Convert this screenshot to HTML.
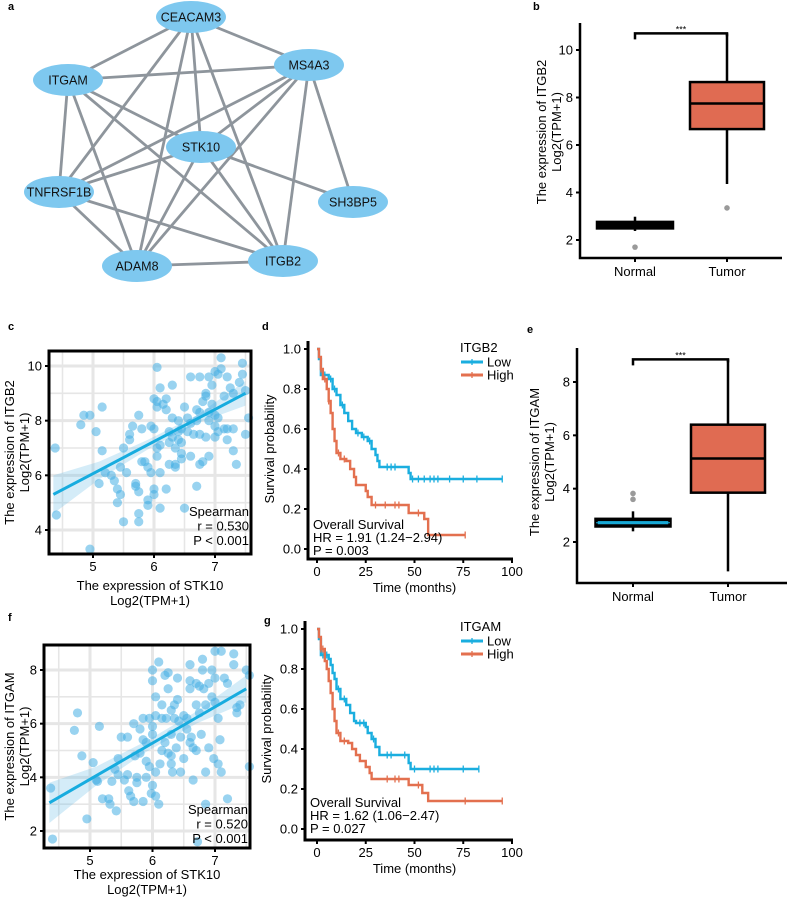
<!DOCTYPE html>
<html><head><meta charset="utf-8"><style>
html,body{margin:0;padding:0;background:#fff}
svg{display:block;font-family:"Liberation Sans",sans-serif}
</style></head><body>
<svg id="fig" width="787" height="897" viewBox="0 0 787 897">
<g id="net"></g>
</svg>
<script>
// ---------- data ----------
const netNodes = ['CEACAM3','MS4A3','ITGAM','STK10','TNFRSF1B','SH3BP5','ADAM8','ITGB2'];
const netEdges = [['CEACAM3','MS4A3'],['CEACAM3','ITGAM'],['CEACAM3','TNFRSF1B'],['CEACAM3','ADAM8'],['CEACAM3','STK10'],['CEACAM3','ITGB2'],
['ITGAM','MS4A3'],['ITGAM','TNFRSF1B'],['ITGAM','ADAM8'],['ITGAM','STK10'],['ITGAM','ITGB2'],
['MS4A3','TNFRSF1B'],['MS4A3','STK10'],['MS4A3','ADAM8'],['MS4A3','ITGB2'],['MS4A3','SH3BP5'],
['STK10','TNFRSF1B'],['STK10','ADAM8'],['STK10','ITGB2'],['STK10','SH3BP5'],
['TNFRSF1B','ADAM8'],['TNFRSF1B','ITGB2'],['ADAM8','ITGB2']];

const boxGroups = ['Normal','Tumor'];
const bQ1=[2.53,6.67], bMed=[2.62,7.75], bQ3=[2.72,8.65], bLo=[2.38,4.36], bHi=[2.98,10.7];
const bOutX=[0,1], bOutY=[1.7,3.35];
const eQ1=[2.6,3.85], eMed=[2.72,5.13], eQ3=[2.85,6.4], eLo=[2.4,0.9], eHi=[3.15,8.85];
const eOutX=[0,0], eOutY=[3.6,3.82];
const bTicks=[2,4,6,8,10], eTicks=[2,4,6,8];

const cX=[4.38,4.4,4.8,4.85,4.95,4.95,5.05,5.1,5.15,5.15,5.2,5.35,5.4,5.4,5.45,5.45,5.5,5.5,5.55,5.6,5.6,5.65,5.7,5.7,5.75,5.75,5.75,5.75,5.8,5.8,5.85,5.9,5.9,5.9,5.95,5.95,6.0,6.0,6.0,6.0,6.05,6.05,6.05,6.05,6.05,6.1,6.1,6.1,6.1,6.15,6.2,6.2,6.2,6.25,6.25,6.3,6.3,6.3,6.35,6.35,6.35,6.4,6.4,6.4,6.45,6.45,6.45,6.5,6.5,6.55,6.55,6.6,6.6,6.65,6.7,6.7,6.7,6.75,6.75,6.75,6.75,6.8,6.8,6.85,6.85,6.85,6.9,6.9,6.9,6.95,6.95,7.0,7.0,7.0,7.0,7.05,7.05,7.05,7.1,7.1,7.15,7.15,7.2,7.2,7.2,7.25,7.3,7.3,7.3,7.35,7.4,7.45,7.45,7.5,7.5,7.55,6.25,6.6,6.9,5.3,6.45];
const cY=[7.0,4.55,7.85,8.2,8.2,3.3,7.6,5.7,6.9,8.5,6.1,5.8,5.0,5.5,6.3,5.3,4.3,7.0,6.1,7.5,7.3,7.8,5.7,5.6,5.4,4.6,4.3,8.2,7.7,6.5,6.5,6.3,5.1,4.9,7.8,6.1,7.7,5.3,5.5,8.8,8.7,9.95,8.5,7.0,6.7,6.1,4.8,9.2,7.1,8.6,8.8,8.4,5.5,7.2,6.4,9.3,8.1,7.4,7.0,6.4,6.3,8.0,7.6,7.3,7.7,6.8,6.6,4.8,8.5,8.1,7.6,9.6,6.7,7.5,5.6,8.4,8.0,9.6,8.3,7.5,6.4,8.7,6.5,9.0,8.9,7.4,9.6,8.0,6.7,9.3,8.6,9.8,8.2,7.8,7.4,9.7,8.1,7.6,10.3,9.9,8.9,7.7,9.6,7.7,7.3,9.2,9.0,7.7,6.9,6.4,9.4,10.1,9.7,9.1,7.5,8.1,7.6,7.9,8.3,6.0,7.2];
const cFitX=[4.35,5.1,5.9,6.7,7.5], cFitY=[5.3,6.18,7.12,8.06,9.0], cBandLo=[4.6,5.85,6.95,7.9,8.55], cBandHi=[6.0,6.5,7.3,8.2,9.45];

const fX=[4.37,4.4,4.75,4.8,4.87,4.95,5.05,5.1,5.12,5.15,5.2,5.3,5.32,5.35,5.4,5.42,5.45,5.45,5.5,5.55,5.6,5.6,5.62,5.65,5.7,5.7,5.72,5.75,5.75,5.8,5.8,5.85,5.85,5.85,5.9,5.9,5.95,5.95,5.98,6.0,6.0,6.0,6.0,6.05,6.05,6.05,6.05,6.1,6.1,6.12,6.15,6.15,6.15,6.2,6.2,6.22,6.25,6.25,6.25,6.3,6.3,6.3,6.3,6.32,6.35,6.35,6.38,6.4,6.4,6.42,6.45,6.5,6.5,6.55,6.55,6.6,6.6,6.6,6.6,6.62,6.65,6.65,6.7,6.7,6.7,6.72,6.75,6.75,6.78,6.8,6.8,6.82,6.85,6.85,6.9,6.9,6.95,6.95,6.98,7.0,7.0,7.0,7.05,7.05,7.08,7.1,7.1,7.15,7.2,7.2,7.3,7.3,7.35,7.35,7.4,7.5,7.55,7.55,6.45,6.0,5.9,6.85];
const fY=[3.6,1.7,5.75,6.4,4.8,2.45,4.55,3.9,3.85,5.9,3.2,3.2,3.0,3.85,4.3,2.75,4.1,4.7,5.5,3.9,5.5,4.1,3.5,3.3,3.1,6.0,4.8,4.0,3.8,5.8,4.9,5.4,6.2,3.1,4.0,5.3,6.2,4.4,3.4,5.9,7.6,8.0,3.7,6.3,7.0,4.2,3.3,8.3,3.0,4.5,5.0,6.2,6.7,7.8,5.3,6.2,7.9,7.3,4.9,6.5,5.6,4.8,4.5,4.2,6.7,6.2,5.1,7.7,6.9,6.1,4.2,6.3,4.7,6.2,5.8,8.2,7.6,7.3,5.3,5.5,5.1,3.9,7.5,6.7,5.0,1.6,7.4,6.4,5.6,8.4,8.0,7.3,6.7,4.2,7.5,5.1,8.0,7.0,4.7,8.7,7.7,6.8,6.2,4.5,5.4,8.7,4.2,7.7,7.5,3.2,8.6,8.2,6.6,6.4,6.7,8.0,7.8,4.4,5.5,5.6,4.6,3.0];
const fFitX=[4.35,5.1,5.9,6.7,7.5], fFitY=[3.05,4.06,5.14,6.22,7.3], fBandLo=[2.3,3.7,4.95,6.0,6.8], fBandHi=[3.8,4.4,5.35,6.45,7.8];

const dLowT=[0,1,2,5,6,8,10,12,14,16,18,20,23,26,28,30,31,32,47,48], dLowS=[1,0.95,0.87,0.87,0.85,0.80,0.77,0.72,0.68,0.64,0.60,0.58,0.56,0.54,0.50,0.47,0.44,0.41,0.38,0.35], dLowEnd=95;
const dLowCens=[3,4,7,9,13,21,24,27,36,38,40,49,52,55,58,60,62,68,75,82,95];
const dHighT=[0,1,2,3,5,6,7,8,9,10,12,15,17,19,20,25,26,28,47,55,57], dHighS=[1,0.96,0.9,0.85,0.80,0.74,0.68,0.60,0.54,0.48,0.45,0.44,0.40,0.36,0.32,0.29,0.26,0.22,0.18,0.15,0.07], dHighEnd=76;
const dHighCens=[2,4,6,11,14,30,35,40,42,52,76];
const gLowT=[0,1,2,6,7,8,9,10,12,15,17,19,20,25,26,28,30,32,47,48], gLowS=[1,0.95,0.87,0.85,0.82,0.78,0.75,0.70,0.65,0.62,0.58,0.54,0.53,0.51,0.48,0.45,0.41,0.37,0.33,0.30], gLowEnd=83;
const gLowCens=[3,5,11,14,22,24,29,36,38,45,50,58,60,62,75,83];
const gHighT=[0,1,2,4,5,6,7,8,9,10,12,16,18,20,22,25,27,28,47,54,57], gHighS=[1,0.96,0.9,0.84,0.80,0.74,0.68,0.60,0.54,0.48,0.44,0.43,0.40,0.37,0.34,0.31,0.28,0.25,0.22,0.18,0.14], gHighEnd=95;
const gHighCens=[2,3,11,14,36,40,42,52,76,95];
const kmXTicks=[0,25,50,75,100], kmYTicks=[0,0.2,0.4,0.6,0.8,1.0];

// ---------- helpers ----------
const NS='http://www.w3.org/2000/svg';
const svg=document.getElementById('fig');
const FS=13;
function mk(tag,attrs,parent){const el=document.createElementNS(NS,tag);for(const k in attrs)el.setAttribute(k,attrs[k]);(parent||svg).appendChild(el);return el;}
function txt(s,attrs,parent){const el=mk('text',attrs,parent);el.textContent=s;return el;}
function lin(d0,d1,r0,r1){return v=>r0+(v-d0)*(r1-r0)/(d1-d0);}

// ---------- panel a: network ----------
const netPos={CEACAM3:[191,17],MS4A3:[309,65],ITGAM:[68,80],STK10:[201,147],TNFRSF1B:[59,192],SH3BP5:[353,202],ADAM8:[137,266],ITGB2:[283,261]};
const netG=document.getElementById('net');
netEdges.forEach(e=>{const a=netPos[e[0]],b=netPos[e[1]];
 const l=mk('line',{x1:a[0],y1:a[1],x2:b[0],y2:b[1],stroke:'#8e959c','stroke-width':2.8},netG);
 
 });
netNodes.forEach(n=>{const p=netPos[n];
 const el=mk('ellipse',{cx:p[0],cy:p[1],rx:35,ry:16,fill:'#7ec8ef'},netG);
 
 
 const t=txt(n,{x:p[0],y:p[1]+4.5,'text-anchor':'middle','font-size':12.5,fill:'#111'},netG);
 
 });

// panel letters
[['a',8,10],['b',533,10],['c',8,330],['d',262,330],['e',527,333],['f',8,621],['g',264,624]].forEach(p=>{
 const t=txt(p[0],{x:p[1],y:p[2],'font-size':11,'font-weight':'bold'});
 
 });

// ---------- box plots ----------
function boxPanel(cfg){
 const y=lin(cfg.t0,cfg.t1,cfg.y0,cfg.y1);
 const xs=cfg.gx;
 const ax=mk('path',{d:`M${cfg.ax},${cfg.top}V${cfg.bot}H${cfg.right}`,fill:'none',stroke:'#000','stroke-width':2.5});
 
 
 cfg.ticks.forEach(v=>{const tk=mk('line',{x1:cfg.ax-4,x2:cfg.ax,y1:y(v),y2:y(v),stroke:'#000','stroke-width':2});
  
  
  const tl=txt(String(v),{x:cfg.ax-7,y:y(v)+4.5,'text-anchor':'end','font-size':FS});
  
  });
 boxGroups.forEach((g,i)=>{const x=xs[i];
  const tk=mk('line',{x1:x,x2:x,y1:cfg.bot,y2:cfg.bot+4,stroke:'#000','stroke-width':2});
  
  
  const tl=txt(g,{x:x,y:cfg.bot+18,'text-anchor':'middle','font-size':FS});
  
  
  const w=mk('line',{x1:x,x2:x,y1:y(cfg.lo[i]),y2:y(cfg.hi[i]),stroke:'#000','stroke-width':2.5});
  
  
  const b=mk('rect',{x:x-37,width:74,y:y(cfg.q3[i]),height:y(cfg.q1[i])-y(cfg.q3[i]),fill:i?'#e06b52':cfg.normalFill,stroke:'#000','stroke-width':i?2.5:cfg.normalStroke});
  
  
  const m=mk('line',{x1:x-37,x2:x+37,y1:y(cfg.med[i]),y2:y(cfg.med[i]),stroke:i?'#000':cfg.normalMed,'stroke-width':i?2.5:1});
  
  });
 cfg.ox.forEach((gi,k)=>{const c=mk('circle',{cx:xs[gi],cy:y(cfg.oy[k]),r:2.8,fill:'#9a9a9a'});
  
  });
 const by=y(cfg.hi[1]);
 const br=mk('path',{d:`M${xs[0]},${by+6}V${by}H${xs[1]}V${by+3}`,fill:'none',stroke:'#000','stroke-width':2.5});
 
 
 const st=txt('***',{x:(xs[0]+xs[1])/2,y:by-1,'text-anchor':'middle','font-size':9});
 
 
 const tg=mk('g',{transform:`translate(${cfg.tx},${cfg.ty}) rotate(-90)`});
 const t1=txt(cfg.title,{x:0,y:0,'text-anchor':'middle','font-size':FS},tg);
 
 
 const t2=txt('Log2(TPM+1)',{x:0,y:15,'text-anchor':'middle','font-size':FS},tg);
 
 
}
boxPanel({name:'itgb2-box',t0:2,t1:10,y0:240,y1:50,ax:580,top:23,bot:258,right:782,gx:[635,727],ticks:bTicks,q1:bQ1,med:bMed,q3:bQ3,lo:bLo,hi:bHi,ox:bOutX,oy:bOutY,title:'The expression of ITGB2',tx:546,ty:132,normalFill:'#000',normalStroke:4.5,normalMed:'#000'});
boxPanel({name:'itgam-box',t0:2,t1:8,y0:542,y1:382,ax:577,top:348,bot:583,right:787,gx:[633,728],ticks:eTicks,q1:eQ1,med:eMed,q3:eQ3,lo:eLo,hi:eHi,ox:eOutX,oy:eOutY,title:'The expression of ITGAM',tx:539,ty:462,normalFill:'#19a9d6',normalStroke:3.5,normalMed:'#19a9d6'});

// ---------- scatter ----------
function scatter(cfg){
 const x=lin(cfg.xt0,cfg.xt1,cfg.xp0,cfg.xp1), y=lin(cfg.yt0,cfg.yt1,cfg.yp0,cfg.yp1);
 const L=cfg.L,R=cfg.R,T=cfg.T,B=cfg.B;
 for(let v=4.5;v<=7.5;v+=0.5){const px=x(v);if(px<=L||px>=R)continue;
  const g=mk('line',{x1:px,x2:px,y1:T,y2:B,stroke:'#e6e6e6','stroke-width':v%1===0?3:1.6});
  
  }
 for(let v=1;v<=11;v+=1){const py=y(v);if(py<=T||py>=B)continue;
  const g=mk('line',{x1:L,x2:R,y1:py,y2:py,stroke:'#e6e6e6','stroke-width':cfg.yTicks.includes(v)?3:1.6});
  
  }
 let d='M'+cfg.fitX.map((v,i)=>x(v)+','+y(cfg.hiB[i])).join('L');
 d+='L'+cfg.fitX.map((v,i)=>x(v)+','+y(cfg.loB[i])).reverse().join('L')+'Z';
 const band=mk('path',{d:d,fill:'rgba(100,185,230,0.28)'});
 
 
 cfg.px.forEach((v,i)=>{const c=mk('circle',{cx:x(v),cy:y(cfg.py[i]),r:4.6,fill:'rgba(70,175,228,0.55)'});
  
  });
 const fl=mk('path',{d:'M'+cfg.fitX.map((v,i)=>x(v)+','+y(cfg.fitY[i])).join('L'),fill:'none',stroke:'#17acdf','stroke-width':3});
 
 
 const fr=mk('rect',{x:L,y:T,width:R-L,height:B-T,fill:'none',stroke:'#000','stroke-width':3});
 
 
 [5,6,7].forEach(v=>{const tk=mk('line',{x1:x(v),x2:x(v),y1:B,y2:B+4,stroke:'#000','stroke-width':2});
  
  
  const tl=txt(String(v),{x:x(v),y:B+17,'text-anchor':'middle','font-size':FS});
  
  });
 cfg.yTicks.forEach(v=>{const tk=mk('line',{x1:L-4,x2:L,y1:y(v),y2:y(v),stroke:'#000','stroke-width':2});
  
  
  const tl=txt(String(v),{x:L-7,y:y(v)+4.5,'text-anchor':'end','font-size':FS});
  
  });
 const s=['Spearman','r = '+cfg.r,'P < 0.001'];
 s.forEach((t,i)=>{const tl=txt(t,{x:R-2,y:cfg.sy+i*14.5,'text-anchor':'end','font-size':FS});
  
  });
 const xt=txt('The expression of STK10',{x:(L+R)/2,y:cfg.xty,'text-anchor':'middle','font-size':FS});
 
 
 const xu=txt('Log2(TPM+1)',{x:(L+R)/2,y:cfg.xty+15,'text-anchor':'middle','font-size':FS});
 
 
 const tg=mk('g',{transform:`translate(14,${(T+B)/2}) rotate(-90)`});
 const t1=txt(cfg.title,{x:0,y:0,'text-anchor':'middle','font-size':FS},tg);
 
 
 const t2=txt('Log2(TPM+1)',{x:0,y:15,'text-anchor':'middle','font-size':FS},tg);
 
 
}
scatter({name:'itgb2-scatter',xt0:5,xt1:7,xp0:93,xp1:215,yt0:4,yt1:10,yp0:530,yp1:366,L:49,R:251,T:351,B:554,yTicks:[4,6,8,10],px:cX,py:cY,fitX:cFitX,fitY:cFitY,loB:cBandLo,hiB:cBandHi,r:'0.530',sy:516,xty:590,title:'The expression of ITGB2'});
scatter({name:'itgam-scatter',xt0:5,xt1:7,xp0:90,xp1:215,yt0:2,yt1:8,yp0:831,yp1:670,L:44,R:250,T:645,B:848,yTicks:[2,4,6,8],px:fX,py:fY,fitX:fFitX,fitY:fFitY,loB:fBandLo,hiB:fBandHi,r:'0.520',sy:814,xty:879,title:'The expression of ITGAM'});

// ---------- Kaplan-Meier ----------
function km(cfg){
 const x=lin(0,100,cfg.x0,cfg.x100), y=lin(0,1,cfg.y0,cfg.y1);
 const ax=mk('path',{d:`M${cfg.ax},${cfg.y1-8}V${cfg.bot}H${x(100)+1}`,fill:'none',stroke:'#000','stroke-width':3});
 
 
 kmYTicks.forEach(v=>{const tk=mk('line',{x1:cfg.ax-4,x2:cfg.ax,y1:y(v),y2:y(v),stroke:'#000','stroke-width':2});
  
  
  const tl=txt(v.toFixed(1),{x:cfg.ax-7,y:y(v)+4.5,'text-anchor':'end','font-size':FS});
  
  });
 kmXTicks.forEach(v=>{const tk=mk('line',{x1:x(v),x2:x(v),y1:cfg.bot,y2:cfg.bot+4,stroke:'#000','stroke-width':2});
  
  
  const tl=txt(String(v),{x:x(v),y:cfg.bot+17,'text-anchor':'middle','font-size':FS});
  
  });
 const xt=txt('Time (months)',{x:x(50),y:cfg.bot+33,'text-anchor':'middle','font-size':FS});
 
 
 const tg=mk('g',{transform:`translate(${cfg.ax-34},${(cfg.y0+cfg.y1)/2}) rotate(-90)`});
 const yt=txt('Survival probability',{x:0,y:0,'text-anchor':'middle','font-size':FS},tg);
 
 
 cfg.series.forEach(s=>{
  let d=`M${x(s.t[0])},${y(s.s[0])}`;
  for(let i=1;i<s.t.length;i++){d+=`H${x(s.t[i])}V${y(s.s[i])}`;}
  d+=`H${x(s.end)}`;
  const p=mk('path',{d:d,fill:'none',stroke:s.color,'stroke-width':2.4});
  
  
  s.cens.forEach(ct=>{let sv=s.s[0];for(let i=0;i<s.t.length;i++){if(s.t[i]<=ct)sv=s.s[i];}
   const c=mk('line',{x1:x(ct),x2:x(ct),y1:y(sv)-3.5,y2:y(sv)+3.5,stroke:s.color,'stroke-width':1.3});
   
   });
 });
 const lx=cfg.lx, ly=cfg.ly;
 const lt=txt(cfg.gene,{x:lx,y:ly,'font-size':FS});
 
 
 cfg.series.forEach((s,i)=>{const yy=ly+10+i*13;
  const l=mk('line',{x1:lx+1,x2:lx+23,y1:yy,y2:yy,stroke:s.color,'stroke-width':3});
  
  
  const tk=mk('line',{x1:lx+12,x2:lx+12,y1:yy-3,y2:yy+3,stroke:s.color,'stroke-width':1.3});
  
  
  const t=txt(s.label,{x:lx+27,y:yy+4.5,'font-size':FS});
  
  });
 cfg.notes.forEach((n,i)=>{const t=txt(n,{x:cfg.ax+5,y:cfg.ny+i*13,'font-size':FS});
  
  });
}
km({name:'itgb2-km',x0:317,x100:512,y0:549,y1:349,ax:308,bot:559,lx:460,ly:352,gene:'ITGB2',ny:529,
 notes:['Overall Survival','HR = 1.91 (1.24\u22122.94)','P = 0.003'],
 series:[{key:'low',label:'Low',color:'#1aaedf',t:dLowT,s:dLowS,end:dLowEnd,cens:dLowCens},{key:'high',label:'High',color:'#e3704f',t:dHighT,s:dHighS,end:dHighEnd,cens:dHighCens}]});
km({name:'itgam-km',x0:317,x100:512,y0:829,y1:629,ax:305,bot:840,lx:460,ly:631,gene:'ITGAM',ny:807,
 notes:['Overall Survival','HR = 1.62 (1.06\u22122.47)','P = 0.027'],
 series:[{key:'low',label:'Low',color:'#1aaedf',t:gLowT,s:gLowS,end:gLowEnd,cens:gLowCens},{key:'high',label:'High',color:'#e3704f',t:gHighT,s:gHighS,end:gHighEnd,cens:gHighCens}]});
</script>
</body></html>
